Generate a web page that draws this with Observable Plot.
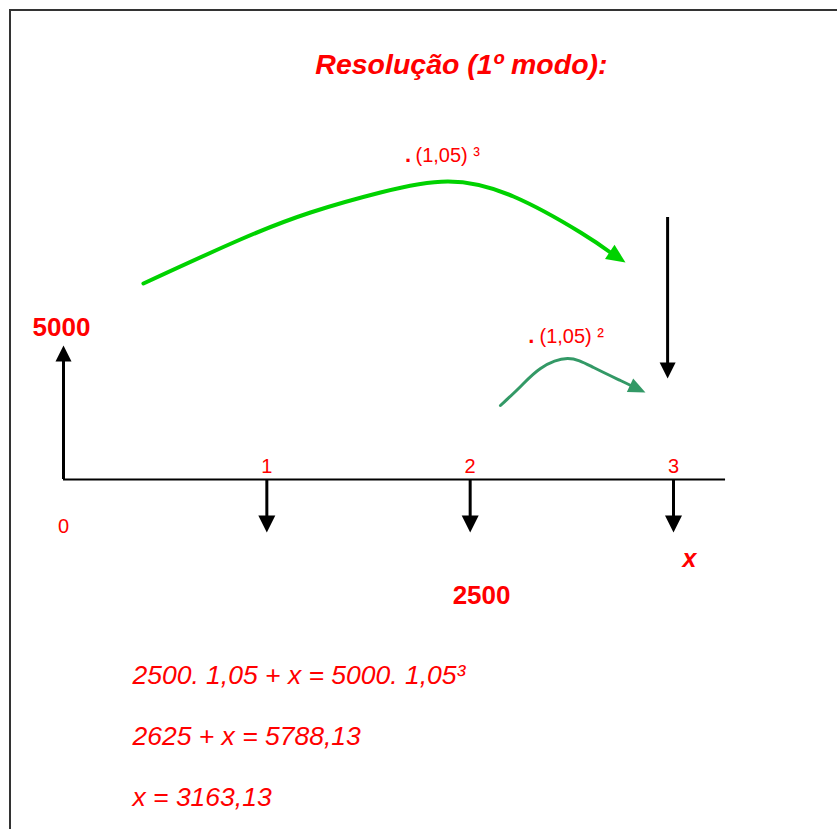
<!DOCTYPE html>
<html>
<head>
<meta charset="utf-8">
<script src="https://cdn.jsdelivr.net/npm/d3@7"></script>
<script src="https://cdn.jsdelivr.net/npm/@observablehq/plot@0.6"></script>
<style>
html, body { margin: 0; padding: 0; background: #fff; overflow: hidden; }
#wrap { position: relative; width: 837px; height: 829px; }
#frame { position: absolute; left: 9px; top: 9px; width: 900px; height: 900px;
         border-left: 2px solid #333; border-top: 2px solid #333; }
#chart { position: absolute; left: 0; top: 0; }
</style>
</head>
<body>
<div id="wrap"><div id="frame"></div><div id="chart"></div></div>
<script>
// ---------------- DATA ----------------
const title = "Resolução (1º modo):";
const periods = [0, 1, 2, 3];
const periodLabels = ["0", "1", "2", "3"];
const flowValues = [5000, -2500, -2500, -1];          // -1: unknown payment x (direction only)
const inflowLabel = "5000";
const paymentLabel = "2500";
const unknownLabel = "x";
const factorLabels = ["(1,05) ³", "(1,05) ²"];
const equations = ["2500. 1,05 + x = 5000. 1,05³", "2625 + x = 5788,13", "x = 3163,13"];
// compounding paths (period, schematic height)
const curve3 = [[0.393, 196], [0.870, 240], [1.215, 267], [1.559, 287], [1.889, 298], [2.213, 283], [2.543, 247], [2.690, 227]];
const curve2 = [[2.149, 74], [2.248, 93], [2.346, 111], [2.479, 121], [2.607, 112], [2.739, 99], [2.790, 94]];

// ---------------- HELPERS ----------------
const RED = "#ff0000";
const FONT = "Liberation Sans, Arial, sans-serif";
function head(angleDeg, len, wid) {
  const a = angleDeg * Math.PI / 180, c = Math.cos(a), s = Math.sin(a);
  return {
    draw(ctx) {
      const bx = -len * c, by = -len * s;
      const px = -s * wid / 2, py = c * wid / 2;
      ctx.moveTo(0, 0);
      ctx.lineTo(bx + px, by + py);
      ctx.lineTo(bx - px, by - py);
      ctx.closePath();
    }
  };
}
const UP_LEN = 134, DOWN_LEN = 53;   // schematic arrow heights
const flows = periods.map((p, i) => ({p, v: flowValues[i], tip: flowValues[i] > 0 ? UP_LEN : -DOWN_LEN}));
const ups = flows.filter(d => d.v > 0), downs = flows.filter(d => d.v < 0);
const labels = periods.map((p, i) => ({p, t: periodLabels[i]}));
const txt = (o) => Object.assign({fill: RED, fontFamily: FONT, lineAnchor: "bottom"}, o);

const chart = Plot.plot({
  width: 837, height: 829,
  marginLeft: 63, marginRight: 164, marginTop: 0, marginBottom: 350,
  x: {domain: [0, 3], axis: null},
  y: {domain: [0, 479], axis: null},
  style: {background: "transparent", overflow: "visible"},
  marks: [
    // time axis
    Plot.ruleY([0], {x1: () => 0, x2: () => 3.256, stroke: "black", strokeWidth: 2}),
    // cash-flow arrows
    Plot.ruleX(ups, {x: "p", y1: () => 0, y2: d => d.tip - 15, stroke: "black", strokeWidth: 3}),
    Plot.dot(ups, {x: "p", y: "tip", symbol: head(-90, 16, 16), fill: "black", stroke: "none"}),
    Plot.ruleX(downs, {x: "p", y1: () => 0, y2: d => d.tip + 16, stroke: "black", strokeWidth: 3}),
    Plot.dot(downs, {x: "p", y: "tip", symbol: head(90, 17, 17), fill: "black", stroke: "none"}),
    // future value arrow at period 3
    Plot.ruleX([3], {x: () => 2.971, y1: () => 262, y2: () => 116, stroke: "black", strokeWidth: 3}),
    Plot.dot([3], {x: () => 2.971, y: () => 101, symbol: head(90, 16, 16), fill: "black", stroke: "none"}),
    // compounding curves
    Plot.line(curve3, {x: d => d[0], y: d => d[1], curve: "natural", stroke: "#00d200", strokeWidth: 4}),
    Plot.dot([0], {x: () => 2.764, y: () => 217, symbol: head(34, 19, 17), fill: "#00d200", stroke: "none"}),
    Plot.line(curve2, {x: d => d[0], y: d => d[1], curve: "natural", stroke: "#339966", strokeWidth: 3}),
    Plot.dot([0], {x: () => 2.862, y: () => 87, symbol: head(25, 17, 15), fill: "#339966", stroke: "none"}),
    // period labels
    Plot.text(labels.filter(d => d.p > 0), txt({x: "p", y: () => 7, text: "t", fontSize: 20})),
    Plot.text(labels.filter(d => d.p === 0), txt({x: "p", y: () => -53, text: "t", fontSize: 20})),
    // value labels
    Plot.text([inflowLabel], txt({x: () => -0.152, y: () => 144, text: d => d, fontSize: 26, fontWeight: "bold", textAnchor: "start"})),
    Plot.text([paymentLabel], txt({x: () => 2.056, y: () => -124, text: d => d, fontSize: 26, fontWeight: "bold"})),
    Plot.text([unknownLabel], txt({x: () => 3.079, y: () => -87, text: d => d, fontSize: 25, fontWeight: "bold", fontStyle: "italic"})),
    // factor labels (multiplication dot + factor)
    Plot.text(["."], txt({x: () => 1.680, y: () => 318, text: d => d, fontSize: 22, fontWeight: "bold", textAnchor: "start"})),
    Plot.text([factorLabels[0]], txt({x: () => 1.731, y: () => 318, text: d => d, fontSize: 20, textAnchor: "start"})),
    Plot.text(["."], txt({x: () => 2.286, y: () => 137, text: d => d, fontSize: 22, fontWeight: "bold", textAnchor: "start"})),
    Plot.text([factorLabels[1]], txt({x: () => 2.341, y: () => 137, text: d => d, fontSize: 20, textAnchor: "start"})),
    // title
    Plot.text([title], txt({x: () => 1.957, y: () => 406, text: d => d, fontSize: 28.5, fontWeight: "bold", fontStyle: "italic"})),
    // equations
    Plot.text(equations.map((t, i) => ({t, i})), txt({x: () => 0.339, y: d => -204 - 61 * d.i, text: "t", fontSize: 26.5, fontStyle: "italic", textAnchor: "start"}))
  ]
});
document.getElementById("chart").appendChild(chart);
</script>
</body>
</html>
